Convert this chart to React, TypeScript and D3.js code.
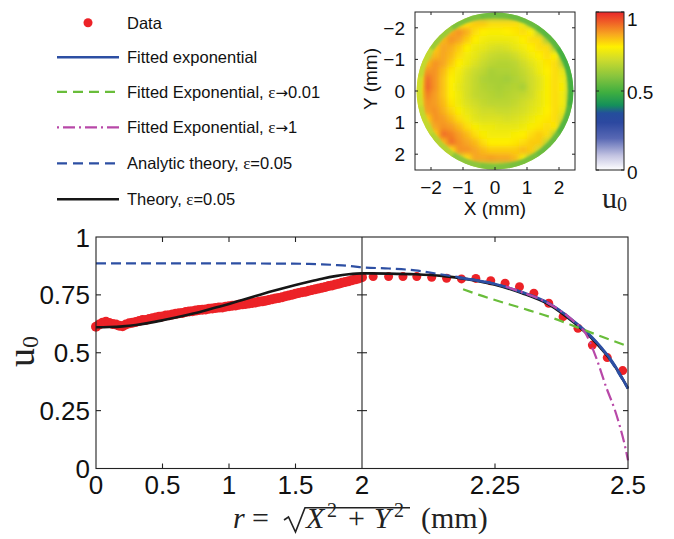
import React from 'react';
import * as d3 from 'd3';

// ---------------- Main plot data ----------------
const dataLeftR = [0,0.025,0.05,0.075,0.1,0.125,0.15,0.175,0.2,0.225,0.25,0.275,0.3,0.325,0.35,0.375,0.4,0.425,0.45,0.475,0.5,0.525,0.55,0.575,0.6,0.625,0.65,0.675,0.7,0.725,0.75,0.775,0.8,0.825,0.85,0.875,0.9,0.925,0.95,0.975,1.0,1.025,1.05,1.075,1.1,1.125,1.15,1.175,1.2,1.225,1.25,1.275,1.3,1.325,1.35,1.375,1.4,1.425,1.45,1.475,1.5,1.525,1.55,1.575,1.6,1.625,1.65,1.675,1.7,1.725,1.75,1.775,1.8,1.825,1.85,1.875,1.9,1.925,1.95,1.975,2.0];
const dataLeftU = [0.612,0.622,0.630,0.634,0.628,0.624,0.622,0.617,0.615,0.622,0.627,0.630,0.633,0.637,0.641,0.642,0.646,0.649,0.652,0.655,0.657,0.661,0.662,0.665,0.668,0.671,0.672,0.676,0.678,0.679,0.682,0.685,0.686,0.687,0.690,0.691,0.693,0.695,0.696,0.699,0.701,0.703,0.704,0.707,0.709,0.711,0.713,0.715,0.717,0.720,0.722,0.725,0.728,0.731,0.734,0.737,0.740,0.744,0.747,0.751,0.755,0.758,0.761,0.764,0.768,0.771,0.774,0.778,0.781,0.784,0.788,0.791,0.795,0.798,0.802,0.806,0.809,0.813,0.817,0.821,0.826];
const dataRightR = [2.021,2.050,2.077,2.103,2.131,2.159,2.187,2.214,2.242,2.269,2.296,2.323,2.351,2.378,2.406,2.433,2.461,2.490];
const dataRightU = [0.829,0.829,0.829,0.829,0.826,0.822,0.819,0.821,0.811,0.800,0.785,0.757,0.714,0.656,0.606,0.533,0.479,0.423];

const theoryR = [0,0.1,0.2,0.3,0.4,0.5,0.6,0.7,0.8,0.9,1.0,1.1,1.2,1.3,1.4,1.5,1.6,1.7,1.8,1.9,2.0,2.05,2.1,2.15,2.2,2.25,2.3,2.35,2.4,2.43,2.45,2.47,2.5];
const theoryU = [0.610,0.611,0.614,0.620,0.629,0.640,0.652,0.665,0.679,0.695,0.711,0.728,0.745,0.762,0.778,0.793,0.807,0.820,0.831,0.839,0.843,0.842,0.839,0.832,0.817,0.794,0.758,0.710,0.627,0.567,0.517,0.460,0.346];

const fitR = [2.18,2.2,2.25,2.3,2.35,2.4,2.43,2.45,2.47,2.5];
const fitU = [0.824,0.818,0.797,0.762,0.715,0.633,0.573,0.522,0.463,0.345];

const analyticR = [0,0.5,1.0,1.4,1.6,1.7,1.8,1.9,1.95,2.0,2.05,2.1,2.15,2.2,2.25,2.3,2.35,2.4,2.45,2.5];
const analyticU = [0.886,0.886,0.886,0.885,0.884,0.882,0.879,0.875,0.872,0.869,0.864,0.856,0.838,0.820,0.797,0.761,0.714,0.631,0.520,0.345];

const greenR = [2.19,2.22,2.25,2.3,2.35,2.4,2.45,2.5];
const greenU = [0.774,0.750,0.728,0.693,0.657,0.614,0.570,0.528];

const magentaR = [2.27,2.3,2.35,2.4,2.42,2.44,2.46,2.475,2.485,2.495,2.5];
const magentaU = [0.786,0.762,0.714,0.632,0.585,0.480,0.345,0.255,0.180,0.090,0.035];

const xTicks = [0, 0.5, 1, 1.5, 2, 2.25, 2.5];
const xTickLabels = ['0', '0.5', '1', '1.5', '2', '2.25', '2.5'];
const yTicks = [0, 0.25, 0.5, 0.75, 1];
const yTickLabels = ['0', '0.25', '0.5', '0.75', '1'];

// ---------------- Inset map data (u0 in %, 0.25 mm cells, X,Y from -2.5 to 2.5) ----------------
const heatRows = [
  [0,0,0,0,0,0,60,60,58,58,58,58,57,56,0,0,0,0,0,0],
  [0,0,0,0,64,75,80,82,82,80,80,80,80,74,62,55,0,0,0,0],
  [0,0,0,65,85,88,85,80,78,77,77,78,79,80,78,64,54,0,0,0],
  [0,0,64,84,88,86,82,78,76,75,75,75,76,78,80,80,63,53,0,0],
  [0,62,82,86,85,82,78,75,74,72,71,72,74,76,78,80,80,62,52,0],
  [0,66,84,86,84,80,76,74,71,69,68,68,70,73,76,78,80,78,55,0],
  [62,84,88,86,82,78,75,72,69,67,66,66,67,70,73,76,79,80,65,50],
  [70,88,88,84,79,76,72,69,67,64,65,65,66,68,71,75,78,80,74,52],
  [75,92,88,83,78,75,71,68,65,64,64,63,65,67,70,73,77,80,76,55],
  [76,93,88,83,78,74,71,68,66,65,64,65,66,64,70,73,77,80,77,55],
  [74,90,87,83,78,75,71,68,67,66,65,66,67,68,70,74,77,80,76,55],
  [72,88,87,84,79,75,72,70,68,67,67,67,68,70,72,74,77,80,76,55],
  [68,87,88,85,81,77,74,72,70,70,69,69,70,71,73,75,78,80,74,54],
  [62,82,88,87,84,80,76,73,72,72,72,71,72,73,75,77,79,80,70,50],
  [0,68,86,88,87,84,80,77,75,75,74,74,74,75,77,79,80,79,60,0],
  [0,60,82,92,90,87,84,80,77,76,76,76,77,78,80,82,80,66,52,0],
  [0,0,62,84,92,88,86,84,80,78,78,78,79,80,82,82,68,54,0,0],
  [0,0,0,62,80,88,88,86,84,82,82,82,82,84,82,70,56,0,0,0],
  [0,0,0,0,60,68,80,86,86,87,86,86,84,76,64,55,0,0,0,0],
  [0,0,0,0,0,0,60,62,64,64,64,62,60,58,0,0,0,0,0,0],
];
// edge ring values (%), clockwise from the top
const rimValues = [56,55,53,50,50,52,55,57,58,60,66,68,70,68,62,58];
const insetTicks = [-2, -1, 0, 1, 2];
const insetTickLabels = ['\u22122', '\u22121', '0', '1', '2'];
const cbarTicks = [0, 0.5, 1];
const cbarTickLabels = ['0', '0.5', '1'];

const cmapStops = [0, 0.09, 0.2, 0.3, 0.36, 0.41, 0.49, 0.59, 0.7, 0.78, 0.86, 0.93, 1];
const cmapColors = ['#ffffff', '#c4c4e2', '#5868b4', '#2c48a0', '#244e9c', '#14905a', '#3eae40', '#86c43e', '#cfdc2c', '#fff000', '#f7a620', '#f06426', '#e8262a'];

const legendLabels = ['Data', 'Fitted exponential', 'Fitted Exponential, ', 'Fitted Exponential, ', 'Analytic theory, ', 'Theory, '];
const legendEps = ['', '', '\u03b5', '\u03b5', '\u03b5', '\u03b5'];
const legendRel = ['', '', '\u2192', '\u2192', '=', '='];
const legendVal = ['', '', '0.01', '1', '0.05', '0.05'];

const SANS = 'Liberation Sans, Arial, Helvetica, sans-serif';
const SERIF = 'Liberation Serif, Times New Roman, serif';

const C_RED = '#ec2227';
const C_BLUE = '#2d4fa3';
const C_GREEN = '#69bd3a';
const C_MAG = '#b848a8';
const C_BLACK = '#161616';

export default function App() {
  const x = d3.scaleLinear().domain([0, 2, 2.5]).range([96, 362, 628]);
  const y = d3.scaleLinear().domain([0, 1]).range([468.5, 237]);
  const line = d3.line<[number, number]>().x(d => x(d[0])).y(d => y(d[1])).curve(d3.curveMonotoneX);
  const zip = (a: number[], b: number[]) => a.map((v, i) => [v, b[i]] as [number, number]);

  const ix = d3.scaleLinear().domain([-2.5, 2.5]).range([415, 575]);
  const iy = d3.scaleLinear().domain([-2.5, 2.5]).range([12, 170]);
  const cb = d3.scaleLinear().domain([0, 1]).range([170, 12]);
  const cmap = d3.scaleLinear<string>().domain(cmapStops).range(cmapColors).interpolate(d3.interpolateRgb);
  const cell = 5 / heatRows.length;

  const rimArc = d3.arc<any>();
  const rpx = (r: number) => ix(r) - ix(0);
  const nRim = rimValues.length;

  const T = 5; // tick length main
  const t = 3; // tick length inset

  const legendY = [22.7, 57.3, 91.8, 127.3, 163.3, 199.3];
  const legendStyle = [
    null,
    { stroke: C_BLUE, dash: undefined, w: 2.6 },
    { stroke: C_GREEN, dash: '10,6', w: 2.2 },
    { stroke: C_MAG, dash: '2,4,12,4', w: 2.2 },
    { stroke: C_BLUE, dash: '10,6', w: 2.2 },
    { stroke: C_BLACK, dash: undefined, w: 2.6 },
  ];

  return (
    <svg width={674} height={539} style={{ position: 'absolute', left: 0, top: 0, background: '#fff' }}>
      <defs>
        <filter id="blurHeat" x="-0.1" y="-0.1" width="1.2" height="1.2">
          <feGaussianBlur stdDeviation="2.6" />
        </filter>
        <filter id="blurRim" x="-0.1" y="-0.1" width="1.2" height="1.2">
          <feGaussianBlur stdDeviation="1.1" />
        </filter>
        <clipPath id="disc">
          <circle cx={ix(0)} cy={iy(0)} r={rpx(2.45)} />
        </clipPath>
        <linearGradient id="cbar" x1="0" y1="1" x2="0" y2="0">
          {cmapStops.map((s, i) => (
            <stop key={i} offset={s} stopColor={cmapColors[i]} />
          ))}
        </linearGradient>
      </defs>

      {/* ---------- Legend ---------- */}
      <g fontFamily={SANS} fontSize={16.5} fill="#111">
        {legendLabels.map((lab, i) => (
          <g key={i}>
            {i === 0 ? (
              <circle cx={88} cy={legendY[i]} r={4.5} fill={C_RED} />
            ) : (
              <line x1={57} x2={119} y1={legendY[i]} y2={legendY[i]} stroke={legendStyle[i]!.stroke}
                strokeWidth={legendStyle[i]!.w} strokeDasharray={legendStyle[i]!.dash} />
            )}
            <text x={127} y={legendY[i] + 5.8}>
              {lab}
              {legendEps[i] && <tspan fontFamily={SERIF} fontSize={17}>{legendEps[i]}</tspan>}
              {legendRel[i] && <tspan fontFamily={legendRel[i] === '=' ? SANS : 'DejaVu Sans, sans-serif'} fontSize={legendRel[i] === '=' ? 16.5 : 15}>{legendRel[i]}</tspan>}
              {legendVal[i] && <tspan>{legendVal[i]}</tspan>}
            </text>
          </g>
        ))}
      </g>

      {/* ---------- Inset map ---------- */}
      <g clipPath="url(#disc)">
        <g filter="url(#blurHeat)">
          {heatRows.flatMap((row, j) =>
            row.map((v, i) =>
              v > 0 ? (
                <rect key={`${i}-${j}`} x={ix(-2.5 + i * cell)} y={iy(-2.5 + j * cell)}
                  width={ix(cell) - ix(0) + 0.6} height={iy(cell) - iy(0) + 0.6} fill={cmap(v / 100)} />
              ) : null
            )
          )}
        </g>
        <g filter="url(#blurRim)" transform={`translate(${ix(0)},${iy(0)})`}>
          {rimValues.map((v, k) => (
            <path key={k}
              d={rimArc({ innerRadius: rpx(2.31), outerRadius: rpx(2.5), startAngle: ((k - 0.5) / nRim) * 2 * Math.PI, endAngle: ((k + 0.5) / nRim) * 2 * Math.PI }) as string}
              fill={cmap(v / 100)} stroke={cmap(v / 100)} strokeWidth={0.8} />
          ))}
        </g>
      </g>
      <rect x={415} y={12} width={160} height={158} fill="none" stroke="#222" strokeWidth={1} />
      {insetTicks.map((v, i) => (
        <g key={i} stroke="#222" strokeWidth={1}>
          <line x1={ix(v)} x2={ix(v)} y1={170} y2={170 - t} />
          <line x1={ix(v)} x2={ix(v)} y1={12} y2={12 + t} />
          <line x1={415} x2={415 + t} y1={iy(v)} y2={iy(v)} />
          <line x1={575} x2={575 - t} y1={iy(v)} y2={iy(v)} />
        </g>
      ))}
      <g fontFamily={SANS} fontSize={19} fill="#111">
        {insetTicks.map((v, i) => (
          <text key={'x' + i} x={ix(v)} y={194} textAnchor="middle">{insetTickLabels[i]}</text>
        ))}
        {insetTicks.map((v, i) => (
          <text key={'y' + i} x={405} y={iy(v) + 6.8} textAnchor="end">{insetTickLabels[i]}</text>
        ))}
        <text x={495} y={214.5} textAnchor="middle">X (mm)</text>
        <g transform="translate(377,79) rotate(-90)">
          <text x={0} y={0} textAnchor="middle">Y (mm)</text>
        </g>
      </g>

      {/* ---------- Colorbar ---------- */}
      <rect x={596} y={12} width={28} height={158} fill="url(#cbar)" stroke="#222" strokeWidth={1} />
      {cbarTicks.map((v, i) => (
        <g key={i}>
          <line x1={624} x2={621} y1={cb(v)} y2={cb(v)} stroke="#222" />
          <line x1={596} x2={599} y1={cb(v)} y2={cb(v)} stroke="#222" />
          <text x={627} y={v === 1 ? 26 : v === 0 ? 179 : cb(v) + 8} fontFamily={SANS} fontSize={19} fill="#111">{cbarTickLabels[i]}</text>
        </g>
      ))}
      <text x={602} y={208} fontFamily={SERIF} fontSize={30} fill="#222">
        u<tspan fontSize={20} dy={3}>0</tspan>
      </text>

      {/* ---------- Main plot ---------- */}
      {zip(dataLeftR, dataLeftU).map((d, i) => (
        <circle key={'l' + i} cx={x(d[0])} cy={y(d[1])} r={5} fill={C_RED} />
      ))}
      {zip(dataRightR, dataRightU).map((d, i) => (
        <circle key={'r' + i} cx={x(d[0])} cy={y(d[1])} r={4.5} fill={C_RED} />
      ))}
      <path d={line(zip(theoryR, theoryU)) as string} fill="none" stroke={C_BLACK} strokeWidth={2.6} />
      <path d={line(zip(analyticR, analyticU)) as string} fill="none" stroke={C_BLUE} strokeWidth={2.2} strokeDasharray="10,5" />
      <path d={line(zip(fitR, fitU)) as string} fill="none" stroke={C_BLUE} strokeWidth={2.6} />
      <path d={line(zip(greenR, greenU)) as string} fill="none" stroke={C_GREEN} strokeWidth={2.2} strokeDasharray="10,6" />
      <path d={line(zip(magentaR, magentaU)) as string} fill="none" stroke={C_MAG} strokeWidth={2.2} strokeDasharray="12,4,2,4" />

      {/* frame */}
      <g stroke="#222" strokeWidth={1.1} fill="none">
        <rect x={96} y={237} width={532} height={231.5} />
        <line x1={362} x2={362} y1={237} y2={468.5} />
        {xTicks.filter(v => v !== 0 && v !== 2 && v !== 2.5).map((v, i) => (
          <g key={i}>
            <line x1={x(v)} x2={x(v)} y1={468.5} y2={468.5 - T} />
            <line x1={x(v)} x2={x(v)} y1={237} y2={237 + T} />
          </g>
        ))}
        {yTicks.filter(v => v !== 0 && v !== 1).map((v, i) => (
          <g key={i}>
            <line x1={96} x2={96 + T} y1={y(v)} y2={y(v)} />
            <line x1={362 - T} x2={362 + T} y1={y(v)} y2={y(v)} />
            <line x1={628} x2={628 - T} y1={y(v)} y2={y(v)} />
          </g>
        ))}
      </g>
      <g fontFamily={SANS} fontSize={26} fill="#111">
        {xTicks.map((v, i) => (
          <text key={i} x={x(v)} y={494} textAnchor="middle">{xTickLabels[i]}</text>
        ))}
        {yTicks.map((v, i) => (
          <text key={i} x={90} y={y(v) + 9.5} textAnchor="end">{yTickLabels[i]}</text>
        ))}
      </g>

      {/* y label */}
      <g transform="translate(34,367) rotate(-90)">
        <text x={0} y={0} fontFamily={SERIF} fontSize={38} fill="#222">
          u<tspan fontSize={24} dy={4}>0</tspan>
        </text>
      </g>

      {/* x label */}
      <g fontFamily={SERIF} fontSize={30} fill="#222">
        <text x={233} y={528} fontStyle="italic">r</text>
        <text x={252} y={528}>=</text>
        <path d="M284,520 L288.5,517 L295.5,532 L305,507.7 L410,507.7" fill="none" stroke="#222" strokeWidth={1.6} />
        <text x={306} y={528} fontStyle="italic">X</text>
        <text x={327} y={517} fontSize={20}>2</text>
        <text x={348} y={528}>+</text>
        <text x={374} y={528} fontStyle="italic">Y</text>
        <text x={394} y={517} fontSize={20}>2</text>
        <text x={421} y={528}>(mm)</text>
      </g>
    </svg>
  );
}
